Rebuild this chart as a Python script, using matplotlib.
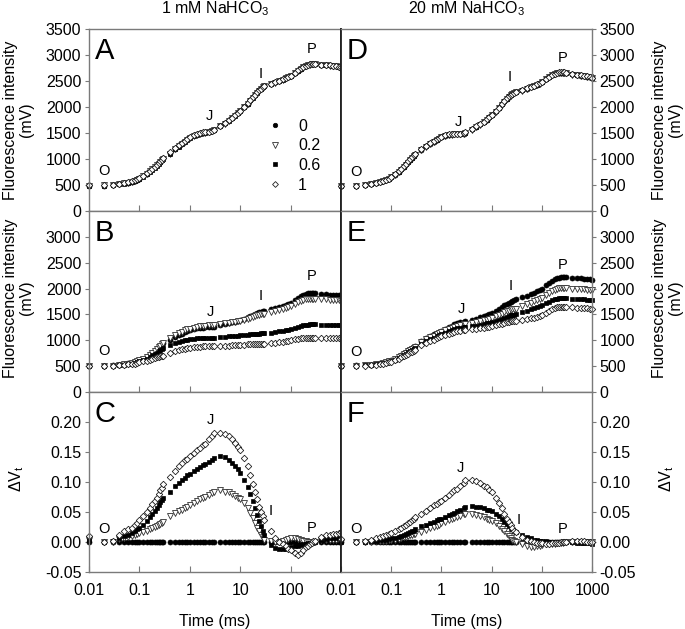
import matplotlib
matplotlib.use('Agg')
import matplotlib.pyplot as plt

plt.rcParams['font.family'] = ['Liberation Sans', 'DejaVu Sans']
plt.rcParams['mathtext.fontset'] = 'custom'
plt.rcParams['mathtext.rm'] = 'Liberation Sans'
plt.rcParams['mathtext.it'] = 'Liberation Sans:italic'
plt.rcParams['axes.unicode_minus'] = False

# ---------------- data ----------------
TIME_MS = [0.01, 0.02, 0.03, 0.04, 0.05, 0.06, 0.07, 0.08, 0.09, 0.1,
           0.12, 0.14, 0.16, 0.18, 0.2, 0.22, 0.24, 0.26, 0.28, 0.3,
           0.4, 0.5, 0.6, 0.7, 0.8, 0.9, 1.0, 1.2, 1.4, 1.6, 1.8, 2.0, 2.4, 2.8, 3.0,
           4, 5, 6, 7, 8, 9, 10, 12, 14, 16, 18, 20, 22, 24, 26, 28, 30,
           40, 50, 60, 70, 80, 90, 100, 120, 140, 160, 180, 200, 220, 240, 260, 280, 300,
           400, 500, 600, 700, 800, 900, 1000]

TREATMENTS = ['0', '0.2', '0.6', '1']
COLUMN_TITLES = ['1 mM NaHCO$_3$', '20 mM NaHCO$_3$']

# Panel A (1 mM, fluorescence, mV)
A_0 = [490, 490, 500, 518, 532, 548, 565, 582, 600, 620, 670, 720, 765, 805, 845, 880, 915, 950, 980, 1010,
       1115, 1200, 1255, 1300, 1345, 1385, 1415, 1455, 1480, 1500, 1505, 1510, 1520, 1540, 1560,
       1635, 1690, 1745, 1790, 1840, 1885, 1925, 2000, 2065, 2130, 2185, 2235, 2280, 2320, 2350, 2380, 2400,
       2440, 2475, 2500, 2530, 2560, 2580, 2600, 2655, 2700, 2740, 2770, 2795, 2815, 2820, 2825, 2825, 2825,
       2815, 2810, 2800, 2795, 2790, 2775, 2760]
A_02 = [490, 492, 500, 516, 530, 546, 562, 580, 598, 617, 665, 714, 760, 800, 840, 876, 910, 944, 975, 1003,
        1105, 1188, 1243, 1288, 1332, 1370, 1400, 1440, 1466, 1486, 1494, 1500, 1512, 1532, 1550,
        1625, 1682, 1737, 1783, 1833, 1878, 1918, 1993, 2060, 2124, 2180, 2230, 2276, 2316, 2347, 2376, 2396,
        2436, 2470, 2496, 2526, 2555, 2576, 2597, 2650, 2697, 2737, 2767, 2792, 2810, 2817, 2820, 2822, 2822,
        2812, 2806, 2798, 2792, 2786, 2772, 2756]
A_06 = [488, 490, 498, 515, 528, 545, 561, 578, 596, 615, 662, 710, 756, 797, 836, 872, 906, 940, 972, 1002,
        1100, 1185, 1240, 1286, 1330, 1370, 1402, 1444, 1470, 1490, 1497, 1503, 1514, 1535, 1553,
        1628, 1684, 1740, 1786, 1836, 1881, 1921, 1996, 2062, 2127, 2182, 2232, 2277, 2318, 2348, 2378, 2398,
        2438, 2472, 2498, 2528, 2557, 2578, 2598, 2652, 2698, 2738, 2768, 2793, 2812, 2818, 2822, 2823, 2823,
        2813, 2808, 2799, 2793, 2788, 2774, 2758]
A_1 = [492, 492, 502, 520, 535, 552, 570, 588, 606, 627, 678, 730, 775, 815, 855, 890, 925, 958, 988, 1018,
       1125, 1210, 1265, 1310, 1355, 1393, 1422, 1460, 1485, 1505, 1510, 1515, 1525, 1545, 1565,
       1640, 1695, 1750, 1795, 1845, 1890, 1930, 2005, 2070, 2135, 2190, 2240, 2284, 2323, 2353, 2382, 2402,
       2442, 2476, 2502, 2532, 2562, 2582, 2602, 2657, 2702, 2742, 2772, 2797, 2817, 2822, 2826, 2826, 2826,
       2816, 2811, 2801, 2796, 2791, 2776, 2761]

# Panel B (1 mM, fluorescence, mV)
B_0 = [510, 512, 518, 528, 540, 553, 567, 582, 597, 613, 645, 680, 718, 757, 795, 830, 862, 892, 918, 940,
       1010, 1060, 1100, 1130, 1160, 1180, 1195, 1215, 1230, 1240, 1245, 1250, 1255, 1260, 1265,
       1290, 1310, 1330, 1345, 1360, 1375, 1390, 1420, 1445, 1470, 1495, 1515, 1530, 1545, 1555, 1565, 1575,
       1600, 1620, 1640, 1660, 1685, 1705, 1730, 1775, 1815, 1850, 1875, 1895, 1905, 1910, 1915, 1915, 1915,
       1900, 1890, 1885, 1880, 1875, 1870, 1860]
B_02 = [500, 505, 512, 522, 535, 549, 564, 579, 595, 611, 645, 682, 720, 760, 798, 833, 866, 897, 925, 950,
        1040, 1095, 1135, 1165, 1190, 1210, 1225, 1245, 1260, 1272, 1280, 1285, 1292, 1298, 1300,
        1312, 1325, 1338, 1348, 1358, 1367, 1376, 1395, 1415, 1434, 1450, 1465, 1480, 1490, 1500, 1506, 1510,
        1540, 1560, 1580, 1600, 1620, 1640, 1660, 1700, 1735, 1760, 1780, 1795, 1800, 1805, 1805, 1805, 1805,
        1795, 1790, 1785, 1780, 1775, 1770, 1765]
B_06 = [500, 505, 510, 518, 528, 539, 551, 563, 576, 590, 617, 646, 676, 706, 735, 762, 787, 810, 830, 850,
        915, 950, 975, 995, 1005, 1015, 1020, 1030, 1035, 1040, 1042, 1045, 1048, 1050, 1050,
        1060, 1068, 1075, 1080, 1085, 1090, 1095, 1100, 1108, 1113, 1118, 1122, 1126, 1130, 1133, 1136, 1138,
        1150, 1160, 1172, 1185, 1195, 1205, 1215, 1240, 1260, 1280, 1292, 1300, 1305, 1308, 1310, 1310, 1310,
        1305, 1303, 1300, 1300, 1298, 1296, 1295]
B_1 = [500, 504, 509, 515, 523, 532, 541, 551, 561, 571, 590, 609, 627, 644, 658, 670, 680, 688, 694, 700,
       760, 790, 810, 825, 837, 847, 855, 865, 872, 878, 882, 885, 888, 890, 891,
       893, 896, 899, 902, 905, 908, 911, 915, 919, 922, 925, 928, 930, 932, 934, 935, 936,
       945, 955, 965, 975, 985, 995, 1005, 1020, 1032, 1040, 1046, 1050, 1052, 1053, 1053, 1053, 1052,
       1050, 1049, 1048, 1048, 1047, 1046, 1045]

# Panel C (1 mM, delta Vt)
C_0 = [0, 0, 0, 0, 0, 0, 0, 0, 0, 0, 0, 0, 0, 0, 0, 0, 0, 0, 0, 0,
       0, 0, 0, 0, 0, 0, 0, 0, 0, 0, 0, 0, 0, 0, 0,
       0, 0, 0, 0, 0, 0, 0, 0, 0, 0, 0, 0, 0, 0, 0, 0, 0,
       0, 0, 0, 0, 0, 0, 0, 0, 0, 0, 0, 0, 0, 0, 0, 0, 0,
       0, 0, 0, 0, 0, 0, 0]
C_02 = [0.003, 0.000, 0.000, 0.005, 0.007, 0.008, 0.010, 0.011, 0.013, 0.015, 0.017, 0.019, 0.021, 0.023, 0.025, 0.027, 0.029, 0.030, 0.032, 0.034,
        0.043, 0.048, 0.051, 0.054, 0.057, 0.059, 0.061, 0.065, 0.068, 0.071, 0.073, 0.075, 0.078, 0.081, 0.083,
        0.086, 0.084, 0.083, 0.080, 0.077, 0.074, 0.072, 0.065, 0.057, 0.048, 0.040, 0.032, 0.024, 0.018, 0.012, 0.008, 0.004,
        0.001, 0.000, 0.000, 0.002, 0.004, 0.005, 0.006, 0.006, 0.005, 0.004, 0.002, 0.001, 0.000, 0.000, 0.000, 0.000, 0.000,
        0.003, 0.003, 0.003, 0.003, 0.003, 0.003, 0.003]
C_06 = [0.003, 0.000, 0.001, 0.006, 0.010, 0.012, 0.015, 0.018, 0.021, 0.024, 0.029, 0.035, 0.041, 0.047, 0.052, 0.057, 0.062, 0.066, 0.070, 0.073,
        0.083, 0.093, 0.098, 0.103, 0.107, 0.111, 0.113, 0.118, 0.122, 0.125, 0.128, 0.130, 0.134, 0.137, 0.140,
        0.143, 0.141, 0.137, 0.132, 0.127, 0.121, 0.115, 0.104, 0.092, 0.080, 0.068, 0.056, 0.045, 0.035, 0.026, 0.018, 0.012,
        -0.005, -0.010, -0.012, -0.012, -0.011, -0.010, -0.009, -0.007, -0.006, -0.005, -0.004, -0.003, -0.002, -0.001, -0.001, 0.000, 0.000,
        0.004, 0.005, 0.006, 0.006, 0.007, 0.007, 0.007]
C_1 = [0.010, 0.000, 0.002, 0.012, 0.018, 0.021, 0.024, 0.029, 0.032, 0.036, 0.043, 0.050, 0.057, 0.063, 0.069, 0.074, 0.080, 0.086, 0.090, 0.097,
       0.109, 0.119, 0.126, 0.131, 0.136, 0.139, 0.143, 0.148, 0.153, 0.157, 0.161, 0.164, 0.171, 0.176, 0.182,
       0.182, 0.180, 0.176, 0.171, 0.165, 0.159, 0.153, 0.140, 0.126, 0.111, 0.097, 0.083, 0.071, 0.059, 0.050, 0.043, 0.037,
       0.018, 0.006, 0.000, -0.003, -0.007, -0.011, -0.014, -0.018, -0.021, -0.018, -0.014, -0.009, -0.006, -0.003, -0.001, 0.001, 0.002,
       0.008, 0.011, 0.012, 0.013, 0.014, 0.015, 0.016]

# Panel D (20 mM, fluorescence, mV)
D_0 = [475, 480, 498, 518, 537, 556, 575, 595, 615, 650, 700, 750, 800, 850, 895, 940, 985, 1025, 1060, 1090,
       1180, 1245, 1295, 1335, 1370, 1400, 1425, 1450, 1470, 1475, 1480, 1480, 1480, 1490, 1505,
       1570, 1620, 1665, 1710, 1755, 1800, 1850, 1915, 1985, 2050, 2110, 2160, 2200, 2230, 2250, 2270, 2285,
       2320, 2355, 2380, 2405, 2430, 2455, 2485, 2535, 2580, 2610, 2635, 2650, 2660, 2660, 2660, 2660, 2655,
       2625, 2615, 2605, 2595, 2585, 2575, 2560]
D_02 = [473, 479, 496, 515, 534, 553, 572, 591, 611, 645, 694, 743, 793, 842, 887, 932, 977, 1017, 1052, 1082,
        1172, 1237, 1287, 1327, 1362, 1392, 1417, 1442, 1462, 1468, 1473, 1474, 1476, 1486, 1500,
        1565, 1615, 1660, 1705, 1750, 1795, 1845, 1910, 1980, 2045, 2105, 2155, 2195, 2225, 2246, 2266, 2281,
        2316, 2350, 2376, 2401, 2426, 2451, 2480, 2530, 2575, 2606, 2631, 2646, 2655, 2656, 2656, 2656, 2651,
        2620, 2610, 2600, 2590, 2580, 2570, 2555]
D_06 = [476, 481, 499, 519, 538, 557, 577, 597, 617, 652, 703, 753, 803, 853, 898, 943, 988, 1028, 1063, 1093,
        1184, 1249, 1299, 1339, 1374, 1404, 1428, 1453, 1472, 1477, 1482, 1482, 1482, 1492, 1507,
        1572, 1622, 1667, 1712, 1757, 1802, 1852, 1917, 1987, 2052, 2112, 2162, 2202, 2232, 2252, 2272, 2287,
        2322, 2357, 2382, 2407, 2432, 2457, 2487, 2537, 2582, 2612, 2637, 2652, 2662, 2662, 2662, 2662, 2657,
        2627, 2617, 2607, 2597, 2587, 2577, 2562]
D_1 = [478, 483, 501, 522, 541, 561, 581, 601, 622, 658, 710, 761, 812, 862, 907, 952, 996, 1035, 1069, 1098,
       1190, 1255, 1304, 1343, 1377, 1406, 1430, 1455, 1474, 1478, 1483, 1484, 1485, 1495, 1510,
       1575, 1625, 1670, 1715, 1760, 1805, 1855, 1920, 1990, 2055, 2114, 2164, 2204, 2234, 2254, 2274, 2289,
       2324, 2359, 2384, 2409, 2434, 2459, 2489, 2539, 2584, 2614, 2639, 2654, 2664, 2664, 2664, 2664, 2659,
       2629, 2619, 2609, 2599, 2589, 2579, 2564]

# Panel E (20 mM, fluorescence, mV)
E_0 = [510, 513, 520, 530, 540, 553, 567, 582, 598, 615, 645, 680, 715, 750, 780, 808, 833, 853, 870, 885,
       990, 1045, 1085, 1118, 1145, 1168, 1188, 1225, 1258, 1285, 1308, 1325, 1348, 1362, 1368,
       1395, 1420, 1445, 1470, 1495, 1515, 1535, 1575, 1610, 1645, 1675, 1700, 1725, 1745, 1765, 1780, 1790,
       1830, 1860, 1890, 1920, 1950, 1975, 2000, 2060, 2110, 2150, 2180, 2200, 2212, 2218, 2220, 2220, 2218,
       2205, 2200, 2195, 2190, 2185, 2180, 2175]
E_02 = [505, 510, 515, 525, 535, 548, 562, 576, 590, 605, 635, 668, 700, 733, 762, 788, 812, 832, 850, 865,
        965, 1018, 1058, 1090, 1116, 1138, 1156, 1190, 1220, 1245, 1265, 1280, 1296, 1306, 1310,
        1330, 1350, 1368, 1385, 1400, 1415, 1430, 1460, 1490, 1515, 1540, 1560, 1575, 1588, 1598, 1605, 1610,
        1665, 1700, 1730, 1755, 1780, 1800, 1820, 1870, 1915, 1950, 1975, 1992, 2002, 2008, 2010, 2010, 2008,
        1998, 1993, 1988, 1984, 1980, 1977, 1973]
E_06 = [505, 510, 515, 522, 532, 544, 556, 570, 584, 598, 625, 655, 685, 715, 742, 767, 790, 810, 828, 843,
        935, 985, 1022, 1052, 1077, 1098, 1115, 1147, 1175, 1198, 1215, 1228, 1242, 1250, 1254,
        1270, 1285, 1300, 1313, 1325, 1337, 1348, 1372, 1395, 1417, 1437, 1455, 1470, 1482, 1491, 1497, 1502,
        1545, 1575, 1600, 1620, 1640, 1658, 1675, 1715, 1750, 1778, 1797, 1808, 1814, 1817, 1818, 1818, 1816,
        1805, 1798, 1793, 1789, 1785, 1781, 1778]
E_1 = [500, 505, 510, 518, 527, 538, 549, 561, 574, 587, 612, 640, 668, 695, 720, 743, 764, 783, 800, 815,
       900, 948, 985, 1015, 1040, 1060, 1077, 1105, 1128, 1147, 1162, 1173, 1186, 1195, 1199,
       1212, 1224, 1235, 1245, 1255, 1264, 1273, 1290, 1306, 1320, 1333, 1345, 1355, 1364, 1371, 1377, 1382,
       1395, 1410, 1425, 1440, 1455, 1470, 1485, 1525, 1565, 1598, 1622, 1636, 1643, 1646, 1647, 1647, 1645,
       1635, 1628, 1623, 1619, 1615, 1612, 1609]

# Panel F (20 mM, delta Vt)
F_0 = [0, 0, 0, 0, 0, 0, 0, 0, 0, 0, 0, 0, 0, 0, 0, 0, 0, 0, 0, 0,
       0, 0, 0, 0, 0, 0, 0, 0, 0, 0, 0, 0, 0, 0, 0,
       0, 0, 0, 0, 0, 0, 0, 0, 0, 0, 0, 0, 0, 0, 0, 0, 0,
       0, 0, 0, 0, 0, 0, 0, 0, 0, 0, 0, 0, 0, 0, 0, 0, 0,
       0, 0, 0, 0, 0, 0, 0]
F_02 = [0.000, 0.000, 0.000, 0.000, 0.001, 0.001, 0.002, 0.002, 0.003, 0.003, 0.004, 0.005, 0.006, 0.008, 0.009, 0.010, 0.011, 0.012, 0.013, 0.014,
        0.017, 0.020, 0.023, 0.025, 0.027, 0.029, 0.031, 0.033, 0.036, 0.038, 0.040, 0.042, 0.044, 0.046, 0.047,
        0.046, 0.045, 0.043, 0.041, 0.039, 0.037, 0.035, 0.031, 0.027, 0.022, 0.018, 0.014, 0.010, 0.007, 0.004, 0.002, 0.000,
        -0.004, -0.007, -0.008, -0.008, -0.007, -0.006, -0.005, -0.004, -0.004, -0.003, -0.003, -0.002, -0.002, -0.001, -0.001, 0.000, 0.000,
        0.000, 0.000, 0.000, 0.000, 0.000, 0.000, 0.000]
F_06 = [0.000, 0.000, 0.000, 0.001, 0.002, 0.003, 0.003, 0.004, 0.005, 0.006, 0.007, 0.009, 0.010, 0.012, 0.013, 0.015, 0.016, 0.018, 0.019, 0.021,
        0.026, 0.029, 0.032, 0.034, 0.036, 0.038, 0.039, 0.042, 0.045, 0.047, 0.049, 0.051, 0.054, 0.057, 0.059,
        0.060, 0.059, 0.058, 0.056, 0.054, 0.053, 0.051, 0.047, 0.043, 0.038, 0.034, 0.030, 0.027, 0.023, 0.021, 0.018, 0.016,
        0.012, 0.009, 0.007, 0.004, 0.003, 0.002, 0.002, 0.001, 0.000, 0.000, 0.000, 0.000, 0.000, 0.000, 0.000, 0.000, 0.000,
        0.000, -0.001, -0.001, -0.001, -0.002, -0.002, -0.003]
F_1 = [0.005, 0.000, 0.001, 0.004, 0.007, 0.008, 0.010, 0.012, 0.013, 0.015, 0.018, 0.021, 0.024, 0.027, 0.029, 0.032, 0.034, 0.037, 0.039, 0.041,
       0.047, 0.052, 0.057, 0.061, 0.064, 0.067, 0.069, 0.074, 0.079, 0.083, 0.086, 0.089, 0.094, 0.099, 0.103,
       0.104, 0.101, 0.098, 0.094, 0.091, 0.087, 0.083, 0.074, 0.065, 0.056, 0.047, 0.039, 0.033, 0.028, 0.023, 0.019, 0.017,
       0.008, 0.004, 0.001, 0.000, -0.001, -0.002, -0.002, -0.003, -0.003, -0.002, -0.002, -0.001, -0.001, 0.000, 0.000, 0.000, 0.000,
       0.001, 0.001, 0.001, 0.001, 0.000, 0.000, 0.000]

# OJIP annotation positions (time ms, value) per panel
OJIP_LABELS = ['O', 'J', 'I', 'P']
OJIP_A = [(0.02, 775), (2.4, 1835), (25, 2640), (260, 3120)]
OJIP_B = [(0.02, 793), (2.6, 1550), (25, 1857), (260, 2240)]
OJIP_C = [(0.02, 0.021), (2.6, 0.203), (41, 0.051), (260, 0.024)]
OJIP_D = [(0.02, 753), (2.2, 1707), (23, 2568), (260, 2942)]
OJIP_E = [(0.02, 773), (2.5, 1598), (24, 2043), (260, 2448)]
OJIP_F = [(0.02, 0.021), (2.4, 0.124), (35, 0.037), (263, 0.021)]

# ---------------- figure ----------------
W, H = 685, 629
fig = plt.figure(figsize=(W / 100, H / 100), dpi=100)

col_x = [(89, 252), (341, 251)]
row_y = [(29, 211), (211, 392), (392, 572)]


def rect(col, row):
    x0, w = col_x[col]
    top, bot = row_y[row]
    return [x0 / W, 1 - bot / H, w / W, (bot - top) / H]


styles = [
    dict(marker='o', ms=3.6, mfc='black', mec='black', mew=0.5),
    dict(marker='v', ms=4.1, mfc='white', mec='#303030', mew=0.6),
    dict(marker='s', ms=3.3, mfc='black', mec='black', mew=0.5),
    dict(marker='D', ms=3.3, mfc='white', mec='#202020', mew=0.6),
]

panels = [
    ('A', 0, 0, [A_0, A_02, A_06, A_1], OJIP_A),
    ('B', 0, 1, [B_0, B_02, B_06, B_1], OJIP_B),
    ('C', 0, 2, [C_0, C_02, C_06, C_1], OJIP_C),
    ('D', 1, 0, [D_0, D_02, D_06, D_1], OJIP_D),
    ('E', 1, 1, [E_0, E_02, E_06, E_1], OJIP_E),
    ('F', 1, 2, [F_0, F_02, F_06, F_1], OJIP_F),
]

for s in [A_0, A_02, A_06, A_1, B_0, B_02, B_06, B_1, C_0, C_02, C_06, C_1,
          D_0, D_02, D_06, D_1, E_0, E_02, E_06, E_1, F_0, F_02, F_06, F_1]:
    assert len(s) == len(TIME_MS), len(s)

SPINE = '#7a7a7a'
TICKFS = 11.5
fl_label = 'Fluorescence intensity\n(mV)'
dv_label = '$\\Delta$V$_\\mathregular{t}$'

for letter, col, row, series, ojip in panels:
    ax = fig.add_axes(rect(col, row))
    handles = []
    for vals, st, lab in zip(series, styles, TREATMENTS):
        h, = ax.plot(TIME_MS, vals, ls='none', clip_on=False, label=lab, **st)
        handles.append(h)
    ax.set_xscale('log')
    ax.set_xlim(0.01, 1000)
    ax.minorticks_off()
    for sp in ax.spines.values():
        sp.set_color(SPINE)
        sp.set_linewidth(1.0)
    # middle separating line
    if col == 0:
        ax.spines['right'].set_color('#202020')
        ax.spines['right'].set_linewidth(1.3)
    else:
        ax.spines['left'].set_color('#202020')
        ax.spines['left'].set_linewidth(1.3)

    # y axis
    if row < 2:
        ax.set_ylim(0, 3500)
        yt = [0, 500, 1000, 1500, 2000, 2500, 3000, 3500] if row == 0 else [0, 500, 1000, 1500, 2000, 2500, 3000]
        ax.set_yticks(yt, [str(v) for v in yt])
        ylab = fl_label
    else:
        ax.set_ylim(-0.05, 0.25)
        yt = [-0.05, 0.0, 0.05, 0.10, 0.15, 0.20]
        ax.set_yticks(yt, ['%.2f' % v for v in yt])
        ylab = dv_label

    if col == 1:
        ax.yaxis.tick_right()
        ax.yaxis.set_label_position('right')
    ax.tick_params(axis='y', direction='out', length=3, width=0.8, color=SPINE,
                   labelsize=TICKFS, pad=2.5)

    # x axis
    if row < 2:
        ax.set_xticks([0.1, 1, 10, 100], ['', '', '', ''])
    else:
        if col == 0:
            xt = [0.01, 0.1, 1, 10, 100]
        else:
            xt = [0.01, 0.1, 1, 10, 100, 1000]
        ax.set_xticks(xt, ['%g' % v for v in xt])
        ax.set_xlabel('Time (ms)', fontsize=11.5)
        ax.xaxis.set_label_coords(0.5, -0.235)
    ax.tick_params(axis='x', direction='in', length=4, width=0.8, color=SPINE,
                   labelsize=TICKFS, pad=8)

    # y labels
    if row < 2:
        ax.set_ylabel(ylab, fontsize=11.5, linespacing=1.05)
        if col == 0:
            ax.yaxis.set_label_coords(-0.22, 0.5 if row == 0 else 0.52)
        else:
            ax.yaxis.set_label_coords(1.24, 0.5 if row == 0 else 0.52)
    else:
        ax.set_ylabel(ylab, fontsize=11.5)
        if col == 0:
            ax.yaxis.set_label_coords(-0.25, 0.52)
        else:
            ax.yaxis.set_label_coords(1.26, 0.52)

    # panel letter
    ax.text(0.022, 0.955, letter, transform=ax.transAxes, fontsize=21,
            ha='left', va='top')

    # OJIP labels
    for lab, (tx, ty) in zip(OJIP_LABELS, ojip):
        ax.text(tx, ty, lab, fontsize=10.5, ha='center', va='center')

    if row == 0:
        ax.set_title(COLUMN_TITLES[col], fontsize=11.5, pad=11)

    if letter == 'A':
        ax.legend(handles=handles, loc='upper left', bbox_to_anchor=(0.713, 0.507),
                  frameon=False, fontsize=11.5, handlelength=0.8, handletextpad=1.04,
                  labelspacing=0.29, borderpad=0.0, borderaxespad=0.0, markerscale=0.9)

fig.savefig('out.png', dpi=100)
